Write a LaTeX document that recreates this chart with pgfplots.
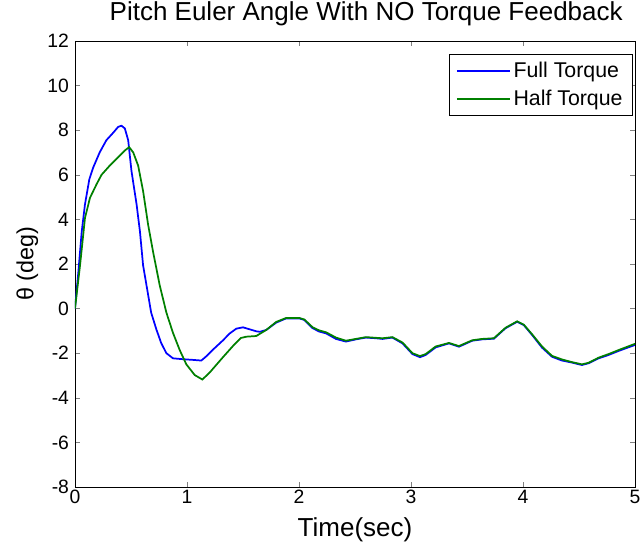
\documentclass[border=0pt]{standalone}
\usepackage{fontspec}
\setmainfont{Liberation Sans}
\usepackage{pgfplots}
\pgfplotsset{compat=1.18}
\definecolor{mblue}{rgb}{0,0,1}
\definecolor{mgreen}{rgb}{0,0.5,0}
\begin{document}
\begin{tikzpicture}
\useasboundingbox (-56.25pt,-43.5pt) rectangle (423.75pt,365.25pt);
\begin{axis}[
  at={(0,0)}, anchor=south west,
  scale only axis,
  width=420pt, height=334.5pt,
  xmin=0, xmax=5, ymin=-8, ymax=12,
  xtick={0,1,2,3,4,5},
  ytick={-8,-6,-4,-2,0,2,4,6,8,10,12},
  tick align=inside,
  major tick length=4pt,
  /pgf/number format/assume math mode=true,
  ticklabel style={font=\fontsize{14.5}{16}\selectfont},
  xticklabel style={yshift=1pt},
  yticklabel style={xshift=-1pt},
  title={Pitch Euler Angle With NO Torque Feedback},
  title style={font=\fontsize{19.5}{21}\selectfont, at={(rel axis cs:0.52,1)}, anchor=south, yshift=2pt},
  xlabel={Time(sec)},
  xlabel style={font=\fontsize{19.5}{21}\selectfont, yshift=-3pt},
  ylabel={θ (deg)},
  ylabel style={font=\fontsize{17.5}{19}\selectfont},
  legend style={at={(rel axis cs:0.995,0.97)}, anchor=north east, font=\fontsize{16}{18}\selectfont, draw=black, inner xsep=5pt, inner ysep=3.5pt, row sep=4pt},
  legend cell align=left,
  legend image code/.code={\draw[#1] (0cm,0cm) -- (1.4cm,0cm);},
]
\addplot[color=mblue, line width=1.3pt] coordinates {
(0,0) (0.03,1.64) (0.06,3.45) (0.089,4.67) (0.128,5.8) (0.163,6.33) (0.22,7.0) (0.28,7.55) (0.34,7.88) (0.386,8.15) (0.415,8.2) (0.445,8.08) (0.475,7.55) (0.504,6.18) (0.55,4.67) (0.58,3.45) (0.608,1.94) (0.644,0.88) (0.68,-0.18) (0.727,-0.94) (0.77,-1.55) (0.816,-2.0) (0.875,-2.23) (0.964,-2.27) (1.053,-2.3) (1.128,-2.33) (1.17,-2.15) (1.23,-1.85) (1.32,-1.43) (1.38,-1.12) (1.44,-0.9) (1.5,-0.84) (1.56,-0.93) (1.62,-1.02) (1.65,-1.04) (1.707,-0.96) (1.796,-0.63) (1.885,-0.44) (2.003,-0.44) (2.048,-0.51) (2.122,-0.88) (2.181,-1.03) (2.241,-1.11) (2.33,-1.36) (2.419,-1.48) (2.508,-1.38) (2.597,-1.3) (2.686,-1.33) (2.745,-1.36) (2.834,-1.3) (2.924,-1.56) (3.013,-2.04) (3.08,-2.18) (3.131,-2.08) (3.22,-1.74) (3.339,-1.56) (3.428,-1.71) (3.547,-1.44) (3.636,-1.38) (3.74,-1.35) (3.844,-0.88) (3.948,-0.59) (4.007,-0.74) (4.081,-1.18) (4.17,-1.75) (4.259,-2.16) (4.348,-2.33) (4.437,-2.42) (4.526,-2.53) (4.586,-2.45) (4.675,-2.23) (4.764,-2.08) (4.853,-1.9) (5.0,-1.63)
};
\addlegendentry{Full Torque}
\addplot[color=mgreen, line width=1.3pt] coordinates {
(0,0) (0.045,1.94) (0.089,4.06) (0.134,4.97) (0.193,5.58) (0.237,6.0) (0.31,6.41) (0.386,6.79) (0.445,7.09) (0.484,7.24) (0.52,7.0) (0.564,6.41) (0.608,5.27) (0.653,3.76) (0.697,2.55) (0.757,1.03) (0.816,-0.18) (0.875,-1.09) (0.935,-1.86) (0.994,-2.5) (1.069,-2.98) (1.137,-3.18) (1.202,-2.87) (1.321,-2.18) (1.41,-1.68) (1.48,-1.32) (1.529,-1.26) (1.618,-1.23) (1.707,-0.96) (1.796,-0.6) (1.885,-0.42) (2.003,-0.42) (2.048,-0.49) (2.122,-0.84) (2.181,-0.98) (2.241,-1.06) (2.33,-1.3) (2.419,-1.44) (2.508,-1.36) (2.597,-1.28) (2.686,-1.31) (2.745,-1.33) (2.834,-1.28) (2.924,-1.52) (3.013,-2.0) (3.08,-2.13) (3.131,-2.04) (3.22,-1.7) (3.339,-1.54) (3.428,-1.68) (3.547,-1.42) (3.636,-1.36) (3.74,-1.33) (3.844,-0.86) (3.948,-0.57) (4.007,-0.72) (4.081,-1.15) (4.17,-1.7) (4.259,-2.12) (4.348,-2.28) (4.437,-2.4) (4.526,-2.5) (4.586,-2.43) (4.675,-2.2) (4.764,-2.04) (4.853,-1.86) (5.0,-1.58)
};
\addlegendentry{Half Torque}
\end{axis}
\end{tikzpicture}
\end{document}
